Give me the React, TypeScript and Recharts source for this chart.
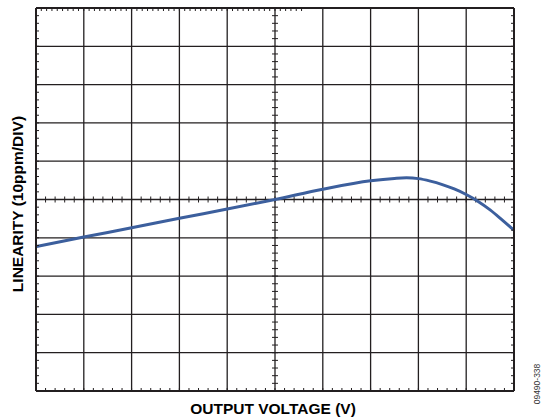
import React from "react"
import { LineChart, Line, XAxis, YAxis, ReferenceLine } from "recharts"

// output voltage, in divisions (no scale given on the plot)
const voltage = [0, 1, 2, 3, 4, 5, 6, 7, 7.5, 7.75, 8, 8.25, 8.5, 8.75, 9, 9.25, 9.5, 9.75, 10]
// linearity error, ppm (10ppm/DIV)
const linearity = [-12.3, -9.8, -7.4, -4.9, -2.5, 0, 2.7, 4.9, 5.5, 5.65, 5.45, 4.8, 3.9, 2.75, 1.3, -0.5, -2.7, -5.3, -8.0]

const xMajor = [0, 1, 2, 3, 4, 5, 6, 7, 8, 9, 10]
const yMajor = [-50, -40, -30, -20, -10, 0, 10, 20, 30, 40, 50]
const xMinor = xMajor.slice(0, -1).flatMap((v) => [v, v + 0.2, v + 0.4, v + 0.6, v + 0.8]).concat([10])
const yMinor = yMajor.slice(0, -1).flatMap((v) => [v, v + 2, v + 4, v + 6, v + 8]).concat([50])

const data = voltage.map((v, i) => ({ v, ppm: linearity[i] }))

const W = 558
const H = 420
const margin = { top: 8, right: 44, bottom: 29, left: 36 }
const plotW = W - margin.left - margin.right
const plotH = H - margin.top - margin.bottom
const TICK = 3 // px, half length of the centre ticks
const dx = (TICK / plotW) * 10
const dy = (TICK / plotH) * 100

const INK = "#231f20"
const BLUE = "#3c5f9d"

// keep the tick marks, drop the labels
const noLabel = () => <g />

export default function App() {
  const edge = { stroke: INK, strokeWidth: 2 }
  const minorLine = { stroke: INK, strokeWidth: 1 }
  return (
    <div style={{ position: "absolute", left: 0, top: 0, width: W, height: H, background: "#fff", fontFamily: "'Liberation Sans', Arial, sans-serif" }}>
      <LineChart width={W} height={H} data={data} margin={margin}>
        <XAxis xAxisId="b" dataKey="v" type="number" domain={[0, 10]} ticks={xMinor} interval={0} tick={noLabel} tickSize={3} tickLine={minorLine} axisLine={edge} mirror allowDataOverflow />
        <XAxis xAxisId="t" orientation="top" type="number" domain={[0, 10]} ticks={xMinor} interval={0} tick={noLabel} tickSize={3} tickLine={minorLine} axisLine={edge} mirror allowDataOverflow />
        <YAxis yAxisId="l" type="number" domain={[-50, 50]} ticks={yMinor} interval={0} tick={noLabel} tickSize={3} tickLine={minorLine} axisLine={edge} mirror allowDataOverflow />
        <YAxis yAxisId="r" orientation="right" type="number" domain={[-50, 50]} ticks={yMinor} interval={0} tick={noLabel} tickSize={3} tickLine={minorLine} axisLine={edge} mirror allowDataOverflow />

        {xMajor.slice(1, -1).map((x) => (
          <ReferenceLine key={"gx" + x} xAxisId="b" yAxisId="l" x={x} stroke={INK} strokeWidth={1.3} />
        ))}
        {yMajor.slice(1, -1).map((y) => (
          <ReferenceLine key={"gy" + y} xAxisId="b" yAxisId="l" y={y} stroke={INK} strokeWidth={1.3} />
        ))}
        {xMinor.map((x) => (
          <ReferenceLine key={"cx" + x} xAxisId="b" yAxisId="l" segment={[{ x, y: -dy }, { x, y: dy }]} stroke={INK} strokeWidth={1} />
        ))}
        {yMinor.map((y) => (
          <ReferenceLine key={"cy" + y} xAxisId="b" yAxisId="l" segment={[{ x: 5 - dx, y }, { x: 5 + dx, y }]} stroke={INK} strokeWidth={1} />
        ))}

        <Line xAxisId="b" yAxisId="l" type="monotone" dataKey="ppm" stroke={BLUE} strokeWidth={3} dot={false} activeDot={false} isAnimationActive={false} />
      </LineChart>

      <div style={{ position: "absolute", left: 0, width: W, top: 0, height: H, pointerEvents: "none" }}>
        <div style={{ position: "absolute", left: 173, width: 200, top: 400, textAlign: "center", fontWeight: "bold", fontSize: 15.5, lineHeight: "18px", color: "#000" }}>
          OUTPUT VOLTAGE (V)
        </div>
        <div style={{ position: "absolute", left: 18 - 110, width: 220, top: 204 - 9, textAlign: "center", fontWeight: "bold", fontSize: 15.5, lineHeight: "18px", color: "#000", transform: "rotate(-90deg)" }}>
          LINEARITY (10ppm/DIV)
        </div>
        <div style={{ position: "absolute", left: 537 - 30, width: 60, top: 384 - 6, textAlign: "center", fontSize: 8.5, lineHeight: "12px", color: "#333", transform: "rotate(-90deg)" }}>
          09490-338
        </div>
      </div>
    </div>
  )
}
